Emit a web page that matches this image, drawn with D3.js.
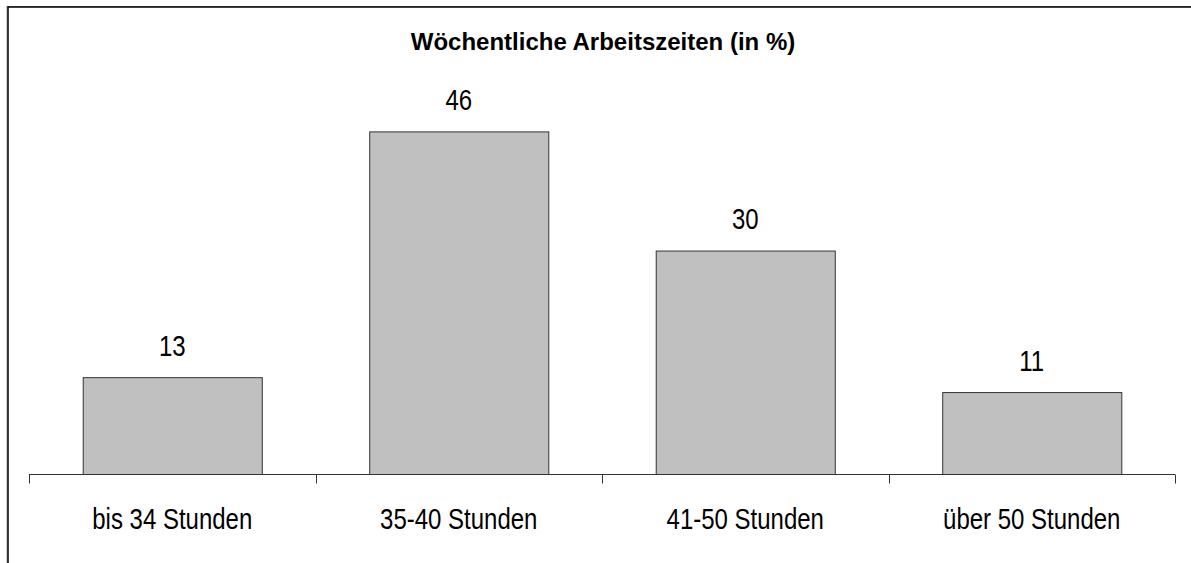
<!DOCTYPE html>
<html>
<head>
<meta charset="utf-8">
<script src="https://cdn.jsdelivr.net/npm/d3@7"></script>
<style>
  html, body { margin: 0; padding: 0; background: #fff; overflow: hidden; }
  svg { display: block; }
  text { font-family: "Liberation Sans", Arial, sans-serif; fill: #000; }
</style>
</head>
<body>
<svg id="chart" width="1191" height="563"></svg>
<script>
// Weekly working hours, share of respondents in percent
const categories = ["bis 34 Stunden", "35-40 Stunden", "41-50 Stunden", "über 50 Stunden"];
const values = [13, 46, 30, 11];
const title = "Wöchentliche Arbeitszeiten (in %)";

const svg = d3.select("#chart");

// outer frame of the chart area (runs past the right and bottom edges)
svg.append("rect")
  .attr("x", 7).attr("y", 6.5)
  .attr("width", 1300).attr("height", 700)
  .attr("fill", "none").attr("stroke", "#999").attr("stroke-width", 1);
svg.append("rect")
  .attr("x", 8).attr("y", 7)
  .attr("width", 1300).attr("height", 700)
  .attr("fill", "none").attr("stroke", "#000").attr("stroke-width", 1.5);

const plot = { left: 29, right: 1175, top: 101.6, bottom: 474 };

const x = d3.scaleBand()
  .domain(categories)
  .range([plot.left, plot.right])
  .paddingInner(0)
  .paddingOuter(0);

const y = d3.scaleLinear()
  .domain([0, 50])
  .range([plot.bottom, plot.top]);

const barW = x.bandwidth() * 0.625;
const stretch = 1.2; // labels are drawn taller than wide

// title
svg.append("text")
  .attr("x", 603).attr("y", 50)
  .attr("text-anchor", "middle")
  .style("font-size", "24px")
  .style("font-weight", "bold")
  .text(title);

// bars
svg.append("g").selectAll("rect")
  .data(values)
  .join("rect")
  .attr("x", (d, i) => x(categories[i]) + (x.bandwidth() - barW) / 2 + 0.5)
  .attr("y", d => y(d) + 0.5)
  .attr("width", barW)
  .attr("height", d => y(0) - y(d))
  .attr("fill", "#c0c0c0")
  .attr("stroke", "#333")
  .attr("stroke-width", 1);

// value labels
svg.append("g").selectAll("text")
  .data(values)
  .join("text")
  .attr("transform", (d, i) =>
    `translate(${x(categories[i]) + x.bandwidth() / 2},${y(d) - 21.5}) scale(1,${stretch})`)
  .attr("text-anchor", "middle")
  .style("font-size", "24px")
  .text(d => d);

// category axis with ticks on band boundaries
const axisG = svg.append("g").attr("transform", `translate(0,${plot.bottom + 0.5})`);
axisG.append("line")
  .attr("x1", plot.left).attr("x2", plot.right)
  .attr("stroke", "#333").attr("stroke-width", 1);
const boundaries = categories.map(c => x(c)).concat([plot.right]);
axisG.selectAll("line.tick")
  .data(boundaries)
  .join("line")
  .attr("class", "tick")
  .attr("x1", d => Math.round(d) + 0.5).attr("x2", d => Math.round(d) + 0.5)
  .attr("y1", 0).attr("y2", 9)
  .attr("stroke", "#333").attr("stroke-width", 1);
axisG.selectAll("text")
  .data(categories)
  .join("text")
  .attr("transform", d => `translate(${x(d) + x.bandwidth() / 2},54) scale(1,${stretch})`)
  .attr("text-anchor", "middle")
  .style("font-size", "24px")
  .text(d => d);
</script>
</body>
</html>
